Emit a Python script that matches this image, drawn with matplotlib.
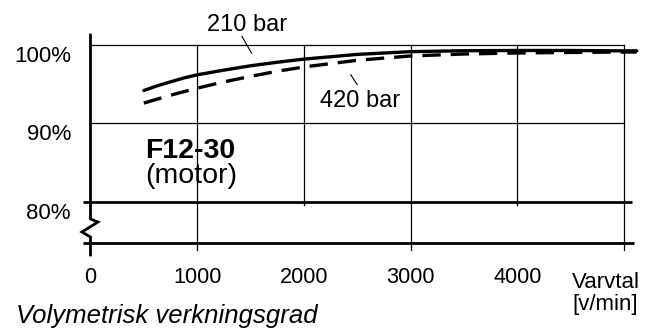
import numpy as np
import matplotlib.pyplot as plt

plt.rcParams['font.family'] = ['Liberation Sans', 'DejaVu Sans']

# varvtal [v/min] and volumetric efficiency [%]
rpm = [500, 625, 750, 875, 1000, 1250, 1500, 1750, 2000, 2500, 3000, 3500, 4000, 4500, 5000, 5120]
eff_210 = [94.2, 94.8, 95.3, 95.8, 96.2, 96.8, 97.35, 97.8, 98.2, 98.8, 99.15, 99.27, 99.3, 99.3, 99.25, 99.25]
eff_420 = [92.6, 93.1, 93.6, 94.05, 94.5, 95.3, 96.0, 96.65, 97.2, 98.05, 98.6, 98.85, 98.98, 99.05, 99.1, 99.1]

xticks = [0, 1000, 2000, 3000, 4000]
xgrid_long = [1000, 3000, 5000]
xgrid_short = [2000, 4000]
yticks = [100, 90, 80]
ytick_labels = ['100%', '90%', '80%']
XMAX = 5000
YBASE = 74.78   # broken axis baseline

fig = plt.figure(figsize=(6.48, 3.32), dpi=100)
ax = fig.add_axes([0, 0, 1, 1])
ax.set_xlim(-848.2, 5225.9)
ax.set_ylim(63.44, 105.73)
ax.axis('off')

# grid
for y in [100, 90]:
    ax.plot([0, XMAX], [y, y], color='black', lw=0.9)
ax.plot([-70, 5075], [80, 80], color='black', lw=2.0, solid_capstyle='butt')
ax.plot([-70, 5094], [YBASE, YBASE], color='black', lw=2.0, solid_capstyle='butt')
for x in xgrid_long:
    ax.plot([x, x], [100, 73.89], color='black', lw=0.9)
for x in xgrid_short:
    ax.plot([x, x], [100, 79.6], color='black', lw=0.9)

# left axis with break
ax.plot([0, 0, 70, -80, 0, 0], [101.27, 77.83, 77.45, 76.18, 75.54, 73.25],
        color='black', lw=2.0, solid_joinstyle='miter')

# curves
ax.plot(rpm, eff_210, color='black', lw=2.4, solid_capstyle='round')
ax.plot(rpm, eff_420, color='black', lw=2.4, dashes=(5.5, 3))

# leaders
ax.plot([1420, 1510], [101.1, 98.95], color='black', lw=0.8)
ax.plot([2440, 2500], [96.2, 94.95], color='black', lw=0.8)
ax.text(1471, 101.78, '210 bar', ha='center', va='baseline', fontsize=17)
ax.text(2526, 92.1, '420 bar', ha='center', va='baseline', fontsize=17)

ax.text(511, 85.57, 'F12-30', ha='left', va='baseline', fontsize=20.5, fontweight='bold')
ax.text(511, 82.42, '(motor)', ha='left', va='baseline', fontsize=20.5)

for y, lab in zip(yticks, ytick_labels):
    ax.text(-183, y - 2.15, lab, ha='right', va='baseline', fontsize=16)
for x in xticks:
    ax.text(x, 69.64, str(x), ha='center', va='baseline', fontsize=15.6)

ax.text(4513, 69.04, 'Varvtal', ha='left', va='baseline', fontsize=16)
ax.text(4520, 66.24, '[v/min]', ha='left', va='baseline', fontsize=16)
ax.text(-698, 64.55, 'Volymetrisk verkningsgrad', ha='left', va='baseline',
        fontsize=18.5, fontstyle='italic')

fig.savefig('out.png', dpi=100)
